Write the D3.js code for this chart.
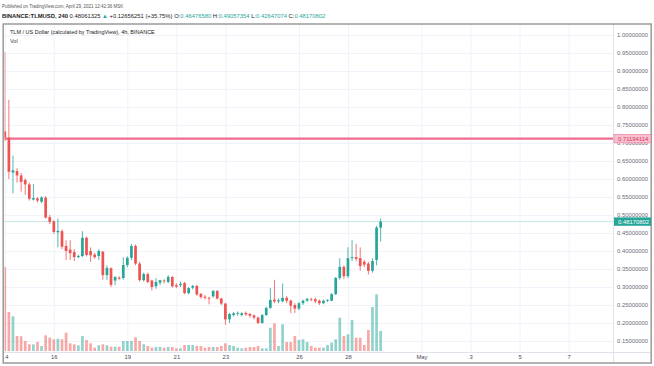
<!DOCTYPE html>
<html>
<head>
<meta charset="utf-8">
<script src="https://cdn.jsdelivr.net/npm/d3@7"></script>
<style>
  html, body { margin: 0; padding: 0; background: #fff; }
  svg { display: block; font-family: "Liberation Sans", Arial, sans-serif; }
</style>
</head>
<body>
<div id="chart"></div>
<script>
// 4h candles, BINANCE:TLMUSD, starting 14 Apr 2021 00:00 UTC
const firstCandle = Date.UTC(2021, 3, 14, 0);
const stepMs = 4 * 3600 * 1000;

const opens = [0.732,0.715,0.618,0.622,0.610,0.597,0.585,0.543,0.546,0.537,
  0.548,0.494,0.482,0.452,0.455,0.414,0.404,0.397,0.383,0.386,
  0.437,0.400,0.390,0.386,0.398,0.333,0.352,0.318,0.326,0.325,
  0.361,0.381,0.414,0.365,0.319,0.336,0.318,0.302,0.312,0.318,
  0.314,0.328,0.305,0.305,0.311,0.283,0.298,0.303,0.281,0.273,
  0.270,0.274,0.289,0.268,0.254,0.210,0.222,0.226,0.222,0.228,
  0.225,0.221,0.215,0.200,0.222,0.242,0.265,0.260,0.260,0.270,
  0.262,0.250,0.240,0.255,0.262,0.267,0.266,0.262,0.255,0.262,
  0.262,0.280,0.325,0.356,0.330,0.380,0.383,0.380,0.370,0.365,
  0.345,0.375,0.46476580];
const highs = [0.953,0.820,0.665,0.630,0.617,0.602,0.590,0.586,0.550,0.552,
  0.552,0.500,0.486,0.490,0.460,0.430,0.430,0.405,0.390,0.455,
  0.440,0.410,0.395,0.405,0.400,0.360,0.355,0.330,0.330,0.383,
  0.385,0.420,0.418,0.370,0.340,0.340,0.320,0.325,0.320,0.322,
  0.333,0.330,0.310,0.315,0.314,0.300,0.306,0.306,0.283,0.278,
  0.273,0.292,0.292,0.270,0.256,0.228,0.230,0.232,0.230,0.232,
  0.228,0.224,0.218,0.225,0.245,0.297,0.320,0.268,0.310,0.275,
  0.265,0.255,0.258,0.265,0.270,0.270,0.270,0.265,0.265,0.266,
  0.283,0.328,0.380,0.360,0.410,0.430,0.420,0.410,0.375,0.370,
  0.380,0.470,0.49057354];
const lows = [0.705,0.600,0.560,0.590,0.565,0.556,0.540,0.540,0.535,0.533,
  0.490,0.475,0.448,0.410,0.405,0.375,0.375,0.372,0.380,0.383,
  0.385,0.370,0.378,0.375,0.320,0.320,0.300,0.305,0.320,0.320,
  0.355,0.375,0.360,0.315,0.315,0.310,0.290,0.295,0.305,0.310,
  0.310,0.298,0.297,0.300,0.280,0.280,0.293,0.276,0.268,0.265,
  0.252,0.270,0.265,0.250,0.195,0.200,0.218,0.220,0.218,0.220,
  0.215,0.210,0.197,0.198,0.220,0.240,0.255,0.255,0.258,0.255,
  0.228,0.228,0.235,0.250,0.258,0.260,0.255,0.250,0.252,0.258,
  0.260,0.278,0.320,0.322,0.325,0.372,0.372,0.345,0.355,0.335,
  0.340,0.360,0.42647074];
const closes = [0.715,0.620,0.624,0.610,0.592,0.585,0.545,0.547,0.540,0.549,
  0.493,0.481,0.453,0.456,0.412,0.400,0.394,0.383,0.386,0.437,
  0.389,0.388,0.383,0.400,0.333,0.353,0.306,0.328,0.323,0.361,
  0.381,0.414,0.365,0.319,0.336,0.314,0.300,0.314,0.319,0.316,
  0.328,0.302,0.301,0.309,0.283,0.297,0.303,0.279,0.272,0.270,
  0.268,0.289,0.268,0.254,0.210,0.225,0.227,0.228,0.227,0.224,
  0.220,0.215,0.200,0.222,0.242,0.264,0.260,0.263,0.270,0.262,
  0.248,0.240,0.255,0.262,0.267,0.265,0.260,0.255,0.262,0.264,
  0.280,0.325,0.356,0.330,0.380,0.383,0.378,0.358,0.362,0.345,
  0.372,0.465,0.48170802];
// volume, millions TLM (estimated)
const volumes = [84,39,34.7,15,14.7,10,6.7,6.7,9,5,
  15.7,13.3,11.7,12.3,11.7,18.3,7.7,6.7,5.7,15,
  11,7.7,3.3,5.7,6.7,5.7,4.3,4.3,4.3,10,
  10,10,13.7,10,6.7,5,3.3,4,4,3.3,
  4,4,2.7,2.7,6,6,6,5,5,3.3,
  4,4,4,5,7.7,6,5,3.3,2.7,3.3,
  4,4,5,2.7,2.7,23.3,27.7,5,26.7,9,
  9,15,11,11.7,9,5,3.3,3.3,3.3,6,
  8.3,11.7,33.3,15,16.7,31,13.3,13.3,6,21,
  44,56.7,20];

const priceTicks = [1.0,0.95,0.9,0.85,0.8,0.75,0.7,0.65,0.6,0.55,0.5,0.45,0.4,0.35,0.3,0.25,0.2,0.15];
const timeTickDates = ["2021-04-14","2021-04-16","2021-04-19","2021-04-21","2021-04-23","2021-04-26","2021-04-28","2021-05-01","2021-05-03","2021-05-05","2021-05-07"];
const timeTickLabels = ["14","16","19","21","23","26","28","May","3","5","7"];
const levelLine = 0.71194114;
const lastPrice = 0.48170802;

const candles = opens.map((o, i) => ({
  t: new Date(firstCandle + i * stepMs),
  o, h: highs[i], l: lows[i], c: closes[i], v: volumes[i]
}));

const W = 654, H = 366;
const plot = { left: 4.5, right: 613, top: 25, bottom: 352 };
const up = "#26a69a", down = "#ef5350";

const svg = d3.select("#chart").append("svg")
  .attr("width", W).attr("height", H);

svg.append("rect").attr("width", W).attr("height", H).attr("fill", "#fff");

const x = d3.scaleUtc()
  .domain([new Date(Date.UTC(2021, 3, 14)), new Date(Date.UTC(2021, 4, 1))])
  .range([4.8, 421.5]);
const y = d3.scaleLinear().domain([0.15, 1.0]).range([341, 35]);
const yVol = d3.scaleLinear().domain([0, 84]).range([351, 267]);

svg.append("clipPath").attr("id", "plotClip")
  .append("rect")
  .attr("x", plot.left).attr("y", plot.top)
  .attr("width", plot.right - plot.left).attr("height", plot.bottom - plot.top);

const tickDates = timeTickDates.map(d => new Date(d + "T00:00:00Z"));

// grid
const grid = svg.append("g").attr("clip-path", "url(#plotClip)");
grid.append("g")
  .attr("transform", `translate(${plot.left},0)`)
  .call(d3.axisLeft(y).tickValues(priceTicks).tickSize(-(plot.right - plot.left)).tickFormat(""))
  .call(g => g.select(".domain").remove())
  .selectAll("line").attr("stroke", "#f0f3fa");
grid.append("g")
  .attr("transform", `translate(0,${plot.bottom})`)
  .call(d3.axisBottom(x).tickValues(tickDates).tickSize(-(plot.bottom - plot.top)).tickFormat(""))
  .call(g => g.select(".domain").remove())
  .selectAll("line").attr("stroke", "#f0f3fa");

const body = svg.append("g").attr("clip-path", "url(#plotClip)");

// volume
const bw = 2.7;
body.append("g").selectAll("rect")
  .data(candles).join("rect")
  .attr("x", d => x(d.t) - bw / 2)
  .attr("width", bw)
  .attr("y", d => yVol(d.v))
  .attr("height", d => yVol(0) - yVol(d.v))
  .attr("fill", d => d.c >= d.o ? up : down)
  .attr("fill-opacity", 0.5);

// last price line
body.append("line")
  .attr("x1", plot.left).attr("x2", plot.right)
  .attr("y1", y(lastPrice)).attr("y2", y(lastPrice))
  .attr("stroke", up).attr("stroke-opacity", 0.35)
  .attr("stroke-width", 0.8);

// horizontal level
body.append("line")
  .attr("x1", plot.left).attr("x2", plot.right)
  .attr("y1", y(levelLine)).attr("y2", y(levelLine))
  .attr("stroke", "#ee6d8f").attr("stroke-width", 2.2);

// candles
const cg = body.append("g").selectAll("g")
  .data(candles).join("g")
  .attr("fill", d => d.c >= d.o ? up : down)
  .attr("stroke", d => d.c >= d.o ? up : down);
cg.append("line")
  .attr("x1", d => x(d.t)).attr("x2", d => x(d.t))
  .attr("y1", d => y(d.h)).attr("y2", d => y(d.l))
  .attr("stroke-width", 0.8);
cg.append("rect")
  .attr("stroke", "none")
  .attr("x", d => x(d.t) - bw / 2)
  .attr("width", bw)
  .attr("y", d => y(Math.max(d.o, d.c)))
  .attr("height", d => Math.max(0.8, Math.abs(y(d.o) - y(d.c))));

// separators and frame
svg.append("line").attr("x1", plot.right + 0.5).attr("x2", plot.right + 0.5)
  .attr("y1", 24).attr("y2", 363).attr("stroke", "#e0e3eb");
svg.append("line").attr("x1", 4).attr("x2", 651)
  .attr("y1", plot.bottom + 0.5).attr("y2", plot.bottom + 0.5).attr("stroke", "#e0e3eb");
svg.append("rect").attr("x", 3.2).attr("y", 24).attr("width", 648).attr("height", 339)
  .attr("fill", "none").attr("stroke", "#9a9a9a").attr("stroke-width", 1.5);

// price axis
svg.append("g")
  .attr("transform", `translate(${plot.right},0)`)
  .call(d3.axisRight(y).tickValues(priceTicks).tickSize(0).tickPadding(4).tickFormat(d3.format(".8f")))
  .call(g => g.select(".domain").remove())
  .selectAll("text")
  .attr("font-family", "Liberation Sans, Arial, sans-serif")
  .attr("font-size", 5.9).attr("fill", "#6a6d78");

// time axis (clip coordinates are in the translated group space)
svg.append("clipPath").attr("id", "timeClip")
  .append("rect").attr("x", 4.8).attr("y", 0).attr("width", plot.right - 4.8).attr("height", 11);
svg.append("g")
  .attr("transform", `translate(0,${plot.bottom})`)
  .attr("clip-path", "url(#timeClip)")
  .call(d3.axisBottom(x).tickValues(tickDates).tickSize(0).tickPadding(3)
    .tickFormat((d, i) => timeTickLabels[i]))
  .call(g => g.select(".domain").remove())
  .selectAll("text")
  .attr("font-family", "Liberation Sans, Arial, sans-serif")
  .attr("font-size", 5.9).attr("fill", "#4a4d58");

// price labels on the axis
function axisTag(v, bg, fg, border) {
  const g = svg.append("g").attr("transform", `translate(${plot.right + 1},${y(v)})`);
  g.append("rect").attr("x", 0).attr("y", -4.2).attr("width", 37).attr("height", 8.4)
    .attr("fill", bg).attr("stroke", border || "none").attr("stroke-width", 0.6);
  g.append("text").attr("x", 4).attr("y", 2.1)
    .attr("font-size", 5.9).attr("fill", fg).text(d3.format(".8f")(v));
}
axisTag(levelLine, "#f8c1cf", "#d6335c", "#ee6d8f");
axisTag(lastPrice, "#26a69a", "#ffffff");

// titles
svg.append("text").attr("x", 2).attr("y", 7.5)
  .attr("font-size", 4.5).attr("fill", "#555")
  .text("Published on TradingView.com, April 29, 2021 12:42:36 MSK");

const info = svg.append("text").attr("x", 2).attr("y", 17.5)
  .attr("font-size", 5.85).attr("fill", "#222");
info.append("tspan").attr("font-weight", "bold").text("BINANCE:TLMUSD, 240 ");
info.append("tspan").text("0.48061325 ");
info.append("tspan").attr("fill", up).text("▲ ");
info.append("tspan").text("+0.12656251 (+35.75%) ");
[["O:", "0.46476580"], ["H:", "0.49057354"], ["L:", "0.42647074"], ["C:", "0.48170802"]]
  .forEach(([k, v]) => {
    info.append("tspan").text(k);
    info.append("tspan").attr("fill", up).text(v + " ");
  });

svg.append("text").attr("x", 10).attr("y", 34)
  .attr("font-size", 5.5).attr("fill", "#222")
  .text("TLM / US Dollar (calculated by TradingView), 4h, BINANCE");
svg.append("text").attr("x", 10).attr("y", 42.5)
  .attr("font-size", 5.5).attr("fill", "#444")
  .text("Vol");
</script>
</body>
</html>
